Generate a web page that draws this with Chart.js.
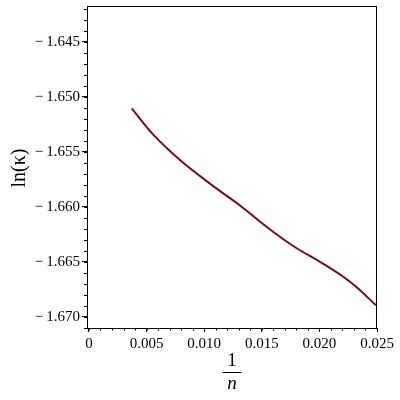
<!DOCTYPE html>
<html><head><meta charset="utf-8">
<script src="https://cdn.jsdelivr.net/npm/chart.js@4/dist/chart.umd.min.js"></script>
<style>html,body{margin:0;padding:0;background:#fff}</style>
</head><body>
<canvas id="c" width="400" height="400" style="width:400px;height:400px;display:block"></canvas>
<script>
const invN    = [0.00371, 0.00558, 0.00790, 0.01079, 0.01311, 0.01513, 0.01773, 0.02034, 0.02207, 0.02324, 0.02491];
const lnKappa = [-1.65105, -1.65344, -1.65574, -1.65811, -1.65987, -1.66157, -1.66355, -1.66517, -1.66634, -1.66730, -1.66894];
const xTicks = [0, 0.005, 0.010, 0.015, 0.020, 0.025];
const xTickLabels = ['0', '0.005', '0.010', '0.015', '0.020', '0.025'];
const yTicks = [-1.670, -1.665, -1.660, -1.655, -1.650, -1.645];
const yTickLabels = ['\u2212\u20091.670', '\u2212\u20091.665', '\u2212\u20091.660', '\u2212\u20091.655', '\u2212\u20091.650', '\u2212\u20091.645'];
const minorStep = 0.001;
const yTitle = 'ln(\u03BA)';
const xTitleNum = '1';
const xTitleDen = 'n';

const FONT = 'Liberation Serif';
const points = invN.map((x, i) => ({x: x, y: lnKappa[i]}));

const framePlugin = {
  id: 'frame',
  afterDraw(chart) {
    const ctx = chart.ctx, a = chart.chartArea;
    const xs = chart.scales.x, ys = chart.scales.y;
    ctx.save();
    ctx.strokeStyle = '#000';
    ctx.lineWidth = 1;
    ctx.strokeRect(Math.round(a.left) + 0.5, Math.round(a.top) + 0.5,
                   Math.round(a.right - a.left) - 1, Math.round(a.bottom - a.top));
    ctx.beginPath();
    for (let v = Math.ceil(xs.min / minorStep) * minorStep; v <= xs.max + 1e-9; v += minorStep) {
      const px = Math.round(xs.getPixelForValue(v)) + 0.5;
      ctx.moveTo(px, a.bottom); ctx.lineTo(px, a.bottom + 2.5);
    }
    for (let v = Math.ceil(ys.min / minorStep) * minorStep; v <= ys.max + 1e-9; v += minorStep) {
      const py = Math.round(ys.getPixelForValue(v)) + 0.5;
      ctx.moveTo(a.left, py); ctx.lineTo(a.left - 3, py);
    }
    ctx.stroke();
    ctx.fillStyle = '#000';
    ctx.font = '20px "' + FONT + '"';
    ctx.textAlign = 'center';
    ctx.textBaseline = 'middle';
    ctx.save();
    ctx.translate(20, 168);
    ctx.rotate(-Math.PI / 2);
    ctx.fillText(yTitle, 0, 0);
    ctx.restore();
    const cx = (a.left + a.right) / 2;
    ctx.font = '19px "' + FONT + '"';
    ctx.fillText(xTitleNum, cx, 361);
    ctx.beginPath();
    ctx.moveTo(cx - 9.5, 372.5); ctx.lineTo(cx + 9.5, 372.5);
    ctx.stroke();
    ctx.font = 'italic 19px "' + FONT + '"';
    ctx.fillText(xTitleDen, cx, 384);
    ctx.restore();
  }
};

new Chart(document.getElementById('c'), {
  type: 'scatter',
  data: {
    datasets: [{
      data: points,
      showLine: true,
      borderColor: '#7a0a14',
      borderWidth: 2,
      pointRadius: 0,
      tension: 0.4,
      fill: false
    }]
  },
  options: {
    responsive: false,
    animation: false,
    devicePixelRatio: 1,
    layout: {padding: {top: 6, right: 23, left: 0, bottom: 0}},
    plugins: {legend: {display: false}, tooltip: {enabled: false}},
    scales: {
      x: {
        type: 'linear',
        min: -0.00017,
        max: 0.025,
        afterBuildTicks: s => { s.ticks = xTicks.map(v => ({value: v})); },
        afterFit: s => { s.height = 72; s.paddingLeft = 0; s.paddingRight = 0; },
        border: {display: false},
        grid: {drawOnChartArea: false, tickLength: 4, color: '#000', tickColor: '#000'},
        ticks: {
          callback: (v, i) => xTickLabels[i],
          color: '#000',
          font: {family: FONT, size: 15},
          padding: 3,
          maxRotation: 0,
          autoSkip: false
        }
      },
      y: {
        type: 'linear',
        min: -1.671,
        max: -1.64175,
        afterBuildTicks: s => { s.ticks = yTicks.map(v => ({value: v})); },
        afterFit: s => { s.width = 87; s.paddingTop = 0; s.paddingBottom = 0; },
        border: {display: false},
        grid: {drawOnChartArea: false, tickLength: 5, color: '#000', tickColor: '#000'},
        ticks: {
          callback: (v, i) => yTickLabels[i],
          color: '#000',
          font: {family: FONT, size: 15},
          padding: 2,
          autoSkip: false
        }
      }
    }
  },
  plugins: [framePlugin]
});
</script>
</body></html>
